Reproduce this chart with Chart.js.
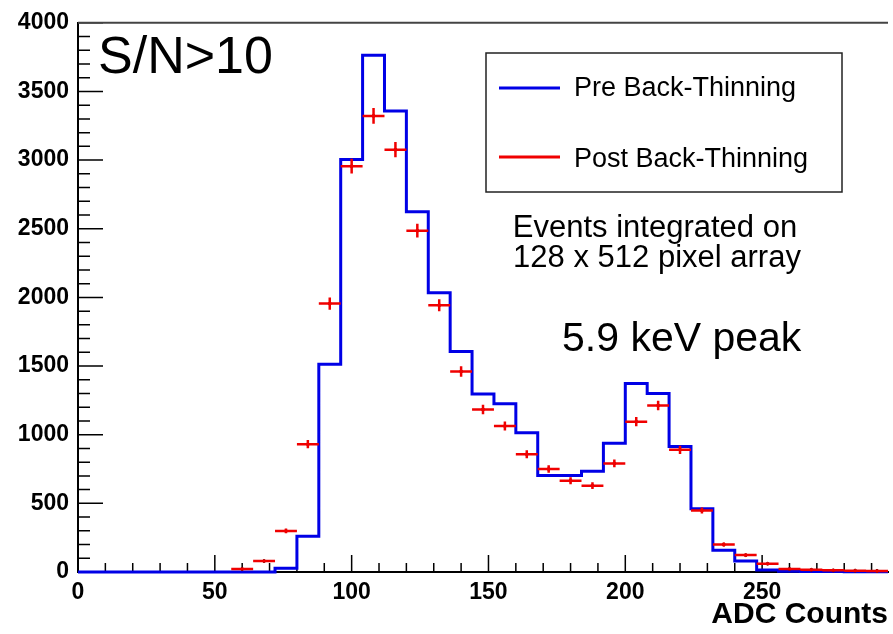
<!DOCTYPE html>
<html>
<head>
<meta charset="utf-8">
<title>ADC Counts spectrum</title>
<script src="https://cdn.jsdelivr.net/npm/chart.js@4.4.0/dist/chart.umd.min.js"></script>
<style>
  html, body { margin: 0; padding: 0; background: #fff; }
  #wrap { width: 893px; height: 634px; position: relative; }
</style>
</head>
<body>
<div id="wrap"><canvas id="spectrum" width="893" height="634"></canvas></div>
<script>
// histogram bins, 8 ADC counts wide (left edges)
const binWidth = 8;
const binStarts = [0, 8, 16, 24, 32, 40, 48, 56, 64, 72, 80, 88, 96, 104, 112, 120, 128, 136,
  144, 152, 160, 168, 176, 184, 192, 200, 208, 216, 224, 232, 240, 248, 256, 264, 272, 280, 288];

// Pre Back-Thinning (blue step line)
const preValues = [0, 0, 0, 0, 0, 0, 0, 0, 0, 27, 260, 1514, 3004, 3763, 3358, 2623, 2033, 1606,
  1297, 1225, 1015, 702, 702, 733, 938, 1372, 1300, 914, 461, 159, 80, 14, 5, 4, 3, 2, 2];

// Post Back-Thinning (red points with error bars)
const postValues = [null, null, null, null, null, null, null, 22, 80, 299, 931, 1955, 2956, 3322, 3076, 2486, 1943, 1461,
  1184, 1063, 858, 750, 665, 629, 791, 1095, 1213, 890, 448, 200, 123, 60, 22, 16, 12, 10, 8];

const xTickLabels = [0, 50, 100, 150, 200, 250];
const yTickLabels = [0, 500, 1000, 1500, 2000, 2500, 3000, 3500, 4000];
const legendLabels = ['Pre Back-Thinning', 'Post Back-Thinning'];

const preColor = '#0000e6';
const postColor = '#f00000';
const fontFamily = "'Liberation Sans', Arial, Helvetica, sans-serif";

Chart.defaults.font.family = fontFamily;
Chart.defaults.color = '#000';

const xMax = 296;

const preData = binStarts.map((x, i) => ({ x: x, y: preValues[i] }));
preData.push({ x: xMax, y: preValues[preValues.length - 1] });

const postData = [];
binStarts.forEach((x, i) => {
    if (postValues[i] !== null) postData.push({ x: x + binWidth / 2, y: postValues[i] });
});

// inward tick marks + top frame line
const frameTicks = {
    id: 'frameTicks',
    beforeDatasetsDraw(chart) {
        const { ctx, chartArea: a, scales: { x, y } } = chart;
        ctx.save();
        ctx.strokeStyle = '#000';
        ctx.lineWidth = 1.5;
        ctx.beginPath();
        for (let v = 0; v <= x.max; v += 10) {
            const px = x.getPixelForValue(v);
            const len = v % 50 === 0 ? 17 : 9;
            ctx.moveTo(px, a.bottom);
            ctx.lineTo(px, a.bottom - len);
        }
        for (let v = 0; v <= y.max; v += 100) {
            const py = y.getPixelForValue(v);
            const len = v % 500 === 0 ? 25 : 12;
            ctx.moveTo(a.left, py);
            ctx.lineTo(a.left + len, py);
        }
        ctx.stroke();

        ctx.strokeStyle = '#444';
        ctx.lineWidth = 2;
        ctx.beginPath();
        ctx.moveTo(a.left, a.top);
        ctx.lineTo(a.right, a.top);
        ctx.stroke();
        ctx.restore();
    }
};

// horizontal (bin width) and vertical (sqrt N) error bars for the red points
const errorBars = {
    id: 'errorBars',
    afterDatasetsDraw(chart) {
        const { ctx, scales: { x, y } } = chart;
        const meta = chart.getDatasetMeta(1);
        ctx.save();
        ctx.strokeStyle = postColor;
        ctx.lineWidth = 2.5;
        ctx.beginPath();
        meta.data.forEach((pt, i) => {
            const d = postData[i];
            const err = Math.sqrt(d.y);
            ctx.moveTo(x.getPixelForValue(d.x - binWidth / 2), pt.y);
            ctx.lineTo(x.getPixelForValue(d.x + binWidth / 2), pt.y);
            ctx.moveTo(pt.x, y.getPixelForValue(d.y + err));
            ctx.lineTo(pt.x, y.getPixelForValue(d.y - err));
        });
        ctx.stroke();
        ctx.restore();
    }
};

// legend box and text labels
const annotations = {
    id: 'annotations',
    afterDraw(chart) {
        const ctx = chart.ctx;
        ctx.save();

        // legend
        ctx.fillStyle = '#fff';
        ctx.fillRect(486, 53, 356, 139);
        ctx.strokeStyle = '#222';
        ctx.lineWidth = 1.5;
        ctx.strokeRect(486, 53, 356, 139);

        ctx.lineWidth = 3;
        ctx.strokeStyle = preColor;
        ctx.beginPath(); ctx.moveTo(499, 88); ctx.lineTo(560, 88); ctx.stroke();
        ctx.strokeStyle = postColor;
        ctx.beginPath(); ctx.moveTo(499, 157); ctx.lineTo(560, 157); ctx.stroke();

        ctx.fillStyle = '#000';
        ctx.textBaseline = 'alphabetic';
        ctx.textAlign = 'left';
        ctx.font = '27px ' + fontFamily;
        ctx.fillText(legendLabels[0], 574, 96);
        ctx.fillText(legendLabels[1], 574, 167);

        ctx.font = '52px ' + fontFamily;
        ctx.fillText('S/N>10', 98, 73);

        ctx.textAlign = 'center';
        ctx.font = '31px ' + fontFamily;
        ctx.fillText('Events integrated on', 655, 237);
        ctx.fillText('128 x 512 pixel array', 657, 267);

        ctx.textAlign = 'left';
        ctx.font = '41px ' + fontFamily;
        ctx.fillText('5.9 keV peak', 562, 351);

        ctx.restore();
    }
};

new Chart(document.getElementById('spectrum'), {
    type: 'line',
    data: {
        datasets: [
            {
                label: legendLabels[0],
                data: preData,
                borderColor: preColor,
                borderWidth: 3,
                stepped: true,
                pointRadius: 0,
                fill: false,
                clip: false,
                order: 2
            },
            {
                type: 'scatter',
                label: legendLabels[1],
                data: postData,
                borderColor: '#900000',
                backgroundColor: '#900000',
                pointRadius: 1.5,
                showLine: false,
                clip: false,
                order: 1
            }
        ]
    },
    options: {
        responsive: false,
        animation: false,
        events: [],
        layout: { padding: { top: 19, right: 0, left: 0, bottom: 0 } },
        plugins: {
            legend: { display: false },
            tooltip: { enabled: false }
        },
        scales: {
            x: {
                type: 'linear',
                min: 0,
                max: xMax,
                afterFit: s => { s.height = 62; },
                afterBuildTicks: s => { s.ticks = xTickLabels.map(v => ({ value: v })); },
                grid: { display: false, drawTicks: false },
                border: { display: true, color: '#000', width: 2 },
                ticks: {
                    font: { size: 23, weight: 'bold' },
                    color: '#000',
                    padding: 7,
                    maxRotation: 0,
                    autoSkip: false,
                    callback: v => String(v)
                },
                title: {
                    display: true,
                    text: 'ADC Counts',
                    align: 'end',
                    color: '#000',
                    font: { size: 30, weight: 'bold' },
                    padding: { top: 0, bottom: 1 }
                }
            },
            y: {
                type: 'linear',
                min: 0,
                max: 4000,
                afterFit: s => { s.width = 78; },
                afterBuildTicks: s => { s.ticks = yTickLabels.map(v => ({ value: v })); },
                grid: { display: false, drawTicks: false },
                border: { display: true, color: '#000', width: 2 },
                ticks: {
                    font: { size: 23, weight: 'bold' },
                    color: '#000',
                    padding: 9,
                    autoSkip: false,
                    callback: v => String(v)
                }
            }
        }
    },
    plugins: [frameTicks, errorBars, annotations]
});
</script>
</body>
</html>
